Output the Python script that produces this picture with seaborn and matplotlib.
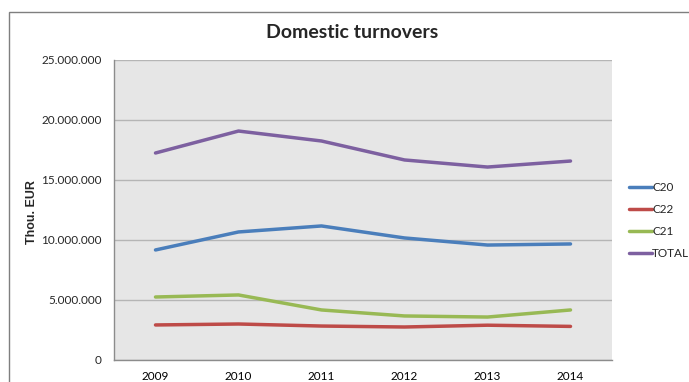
import matplotlib
matplotlib.use("Agg")
import matplotlib.pyplot as plt
import matplotlib.ticker as mticker
from matplotlib.patches import Rectangle
import seaborn as sns
import pandas as pd

years = ["2009", "2010", "2011", "2012", "2013", "2014"]
c20 = [9_170_000, 10_670_000, 11_170_000, 10_170_000, 9_580_000, 9_670_000]
c22 = [2_920_000, 3_000_000, 2_830_000, 2_750_000, 2_900_000, 2_800_000]
c21 = [5_250_000, 5_420_000, 4_170_000, 3_670_000, 3_580_000, 4_170_000]
total = [17_250_000, 19_080_000, 18_250_000, 16_670_000, 16_080_000, 16_580_000]

series = ["C20", "C22", "C21", "TOTAL"]
colors = ["#4a7ebb", "#be4b48", "#98b954", "#7d60a0"]

df = pd.DataFrame({
    "year": years * 4,
    "x": list(range(len(years))) * 4,
    "value": c20 + c22 + c21 + total,
    "series": sum([[s] * len(years) for s in series], []),
})

sns.set_theme(style="white")
plt.rcParams["font.family"] = ["Lato", "DejaVu Sans"]

fig = plt.figure(figsize=(6.89, 3.82), dpi=100)
fig.patches.append(Rectangle((9 / 689, -0.05), 1.2, 1 - 12 / 382 + 0.05,
                             transform=fig.transFigure, fill=False,
                             edgecolor="#7f7f7f", linewidth=1.0))
ax = fig.add_axes([114 / 689, 1 - 360 / 382, (612 - 114) / 689, 300 / 382])
ax.set_facecolor("#e6e6e6")

sns.lineplot(data=df, x="x", y="value", hue="series", hue_order=series,
             palette=colors, linewidth=2.5, ax=ax, legend=False)

ax.set_xlim(-0.5, len(years) - 0.5)
ax.set_ylim(0, 25_000_000)
ax.yaxis.set_major_locator(mticker.MultipleLocator(5_000_000))
ax.yaxis.set_major_formatter(mticker.FuncFormatter(
    lambda v, p: f"{int(v):,}".replace(",", ".")))
ax.set_xticks(range(len(years)))
ax.set_xticklabels(years)
ax.set_xticks([i - 0.5 for i in range(len(years) + 1)], minor=True)
ax.tick_params(axis="x", which="major", length=0, labelsize=8.5,
               colors="#000000", pad=8)
ax.tick_params(axis="x", which="minor", length=5, color="#8c8c8c", width=1)
ax.tick_params(axis="y", which="major", length=5, color="#8c8c8c",
               labelsize=8.5, pad=4)
ax.grid(axis="y", color="#b5b5b5", linewidth=1)
ax.set_axisbelow(True)
for s in ["top", "right"]:
    ax.spines[s].set_visible(False)
for s in ["left", "bottom"]:
    ax.spines[s].set_color("#8c8c8c")
    ax.spines[s].set_linewidth(1)

ax.set_xlabel("")
ax.set_ylabel("")
fig.text(32 / 689, 1 - 212 / 382, "Thou. EUR", rotation=90, ha="center",
         va="center", fontsize=9, fontweight="bold",
         family=["Liberation Sans", "DejaVu Sans"])
fig.text(352 / 689, 1 - 33 / 382, "Domestic turnovers", ha="center",
         va="center", fontsize=14, fontweight="bold")

handles = [plt.Line2D([], [], color=c, linewidth=2.5) for c in colors]
fig.legend(handles, series, loc="upper left",
           bbox_to_anchor=(624 / 689, 1 - 177 / 382), frameon=False,
           fontsize=8.5, handlelength=1.95, handletextpad=0.05,
           labelspacing=0.95, borderaxespad=0)

fig.savefig("out.png", dpi=100)
